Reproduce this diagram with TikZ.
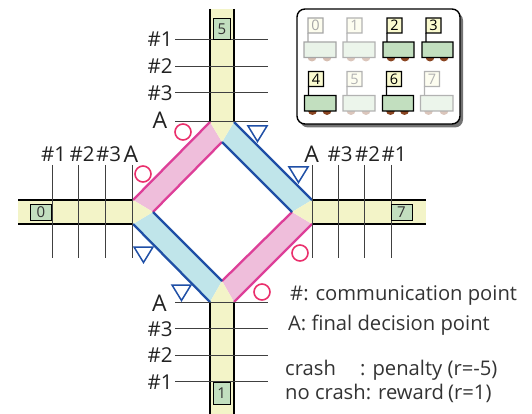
\documentclass[tikz,border=0pt]{standalone}
\usepackage{fontspec}
\setmainfont{Open Sans}
\definecolor{roady}{HTML}{F3F4C8}
\definecolor{bandp}{HTML}{EFBEDB}
\definecolor{bandb}{HTML}{C0E5EA}
\definecolor{linep}{HTML}{DD3F98}
\definecolor{lineb}{HTML}{1F4FA6}
\definecolor{circ}{HTML}{EA2F6C}
\definecolor{carg}{HTML}{C2DFBF}
\definecolor{wheel}{HTML}{8A4522}
\definecolor{flagy}{HTML}{FAFACF}
\definecolor{txt}{HTML}{222222}
\definecolor{graytx}{HTML}{333333}
\tikzset{
 roadedge/.style={black,line width=2.1pt},
 cp/.style={black!75,line width=1pt},
 pinkl/.style={linep,line width=2.3pt},
 bluel/.style={lineb,line width=2.3pt},
 okc/.style={circ,line width=1.6pt},
 notri/.style={lineb,line width=1.5pt,line join=miter},
 lab/.style={font=\fontsize{20.5}{20.5}\selectfont,text=txt,inner sep=0pt},
 laba/.style={font=\fontsize{23}{23}\selectfont,text=txt,inner sep=0pt},
 note/.style={font=\fontsize{20.2}{20}\selectfont,text=graytx,inner sep=0pt,anchor=base west},
 num/.style={draw=black,line width=1pt,fill=carg,font=\fontsize{15}{15}\selectfont,text=graytx,inner sep=0pt},
}
% #1 left x, #2 top of body y, #3 label, #4 opacity, #5 right x
\newcommand{\traincar}[5]{%
 \begin{scope}[opacity=#4,transparency group]
  \fill[wheel] (#1+3.5,#2+15) arc[start angle=180,end angle=0,radius=4.5] -- cycle;
  \fill[wheel] (#5-13.5,#2+15) arc[start angle=180,end angle=0,radius=4.5] -- cycle;
  \draw[black,line width=1.3pt,fill=carg] (#1,#2) rectangle (#5,#2+15.5);
  \draw[black,line width=1.1pt] (#1+4,#2) -- (#1+4,#2-9);
  \node[draw=black,line width=1.3pt,fill=flagy,minimum width=15pt,minimum height=15pt,inner sep=0pt,font=\fontsize{14.5}{14.5}\selectfont,text=black] (flag#3) at (#1+11.5,#2-16.5) {#3};
 \end{scope}}
\begin{document}
\begin{tikzpicture}[x=1pt,y=-1pt]
\useasboundingbox (0,0) rectangle (532,414);
% bands
\coordinate (t1) at (210,122); \coordinate (t2) at (234,122); \coordinate (ti) at (222,142);
\coordinate (l1) at (133,200); \coordinate (l2) at (133,224); \coordinate (li) at (153,212);
\coordinate (r1) at (312,200); \coordinate (r2) at (312,224); \coordinate (ri) at (292,212);
\coordinate (b1) at (210,302); \coordinate (b2) at (234,302); \coordinate (bi) at (222,281);
% roads
\fill[roady] (210,9) rectangle (t2);
\fill[roady] (b1) rectangle (234,414);
\fill[roady] (18,200) rectangle (l2);
\fill[roady] (r1) rectangle (426,224);
\fill[bandp] (t1) -- (ti) -- (li) -- (l1) -- cycle;
\fill[bandp] (r2) -- (ri) -- (bi) -- (b2) -- cycle;
\fill[bandb] (t2) -- (ti) -- (ri) -- (r1) -- cycle;
\fill[bandb] (l2) -- (li) -- (bi) -- (b1) -- cycle;
\fill[roady] (t1)--(t2)--(ti)--cycle (l1)--(l2)--(li)--cycle (r1)--(r2)--(ri)--cycle (b1)--(b2)--(bi)--cycle;
% band lines
\draw[pinkl] (t1)--(l1); \draw[pinkl] (ti)--(li); \draw[pinkl] (r2)--(b2); \draw[pinkl] (ri)--(bi);
\draw[bluel] (t2)--(r1); \draw[bluel] (ti)--(ri); \draw[bluel] (l2)--(b1); \draw[bluel] (li)--(bi);
% road edges
\draw[roadedge] (210,9)--(t1); \draw[roadedge] (234,9)--(t2);
\draw[roadedge] (b1)--(210,414); \draw[roadedge] (b2)--(234,414);
\draw[roadedge] (18,200)--(l1); \draw[roadedge] (18,224)--(l2);
\draw[roadedge] (r1)--(426,200); \draw[roadedge] (r2)--(426,224);
% communication lines
\foreach \y in {40,66.5,93,121.5,302,328.7,355,381.7} \draw[cp] (175,\y)--(268,\y);
\foreach \x in {52,78.7,105.3,132.5,312,338,364,391} \draw[cp] (\x,165)--(\x,258);
% cars on roads
\node[num,minimum width=17.5pt,minimum height=21.5pt] (c5) at (222,29) {5};
\node[num,minimum width=21.5pt,minimum height=16.5pt] (c0) at (41,212.3) {0};
\node[num,minimum width=17pt,minimum height=22pt] (c1) at (221.7,393) {1};
\node[num,minimum width=21pt,minimum height=16.5pt] (c7) at (401.5,212.3) {7};
% circles
\foreach \p in {(183,132),(143,174),(300,253),(262,292)} \draw[okc] \p circle[radius=8];
% triangles
\foreach \x/\y in {248/126,289/167,134/247,172/285}
  \draw[notri] (\x,\y)--(\x+19,\y)--(\x+9.5,\y+15.5)--cycle;
% labels
\node[lab] (n1) at (160,39) {\#1};
\node[lab] (n2) at (160,66) {\#2};
\node[lab] (n3) at (160,93) {\#3};
\node[laba] (na) at (160,120) {A};
\node[lab] (w1) at (53.5,154) {\#1};
\node[lab] (w2) at (82,154) {\#2};
\node[lab] (w3) at (108.7,154) {\#3};
\node[laba] (wa) at (131,154) {A};
\node[laba] (ea) at (311.7,154) {A};
\node[lab] (e3) at (340,154) {\#3};
\node[lab] (e2) at (367.5,154) {\#2};
\node[lab] (e1) at (394,154) {\#1};
\node[laba] (sa) at (159.5,303) {A};
\node[lab] (s3) at (160,329) {\#3};
\node[lab] (s2) at (160,355) {\#2};
\node[lab] (s1) at (160,382) {\#1};
% notes
\node[note] (t1n) at (290,300) {\#: communication point};
\node[note] (t2n) at (288,330) {A: final decision point};
\node[note] (t3n) at (285,375) {crash};
\node[note] (t3m) at (360,375) {: penalty (r=-5)};
\node[note] (t4n) at (285,399) {no crash: reward};
\node[note] (t4m) at (448,399) {(r=1)};
% panel
\fill[black!55,rounded corners=8pt] (300,12.5) rectangle (463,127.5);
\draw[black,line width=1.4pt,fill=white,rounded corners=8pt] (297,9) rectangle (460,124);
\traincar{304}{42}{0}{0.35}{336}
\traincar{343}{42}{1}{0.3}{375}
\traincar{383}{42}{2}{1}{414}
\traincar{422}{42}{3}{1}{453}
\traincar{304.5}{95.5}{4}{1}{336}
\traincar{343}{95.5}{5}{0.3}{375}
\traincar{382.5}{95.5}{6}{1}{413.5}
\traincar{420.5}{95.5}{7}{0.3}{453}
\end{tikzpicture}
\end{document}
